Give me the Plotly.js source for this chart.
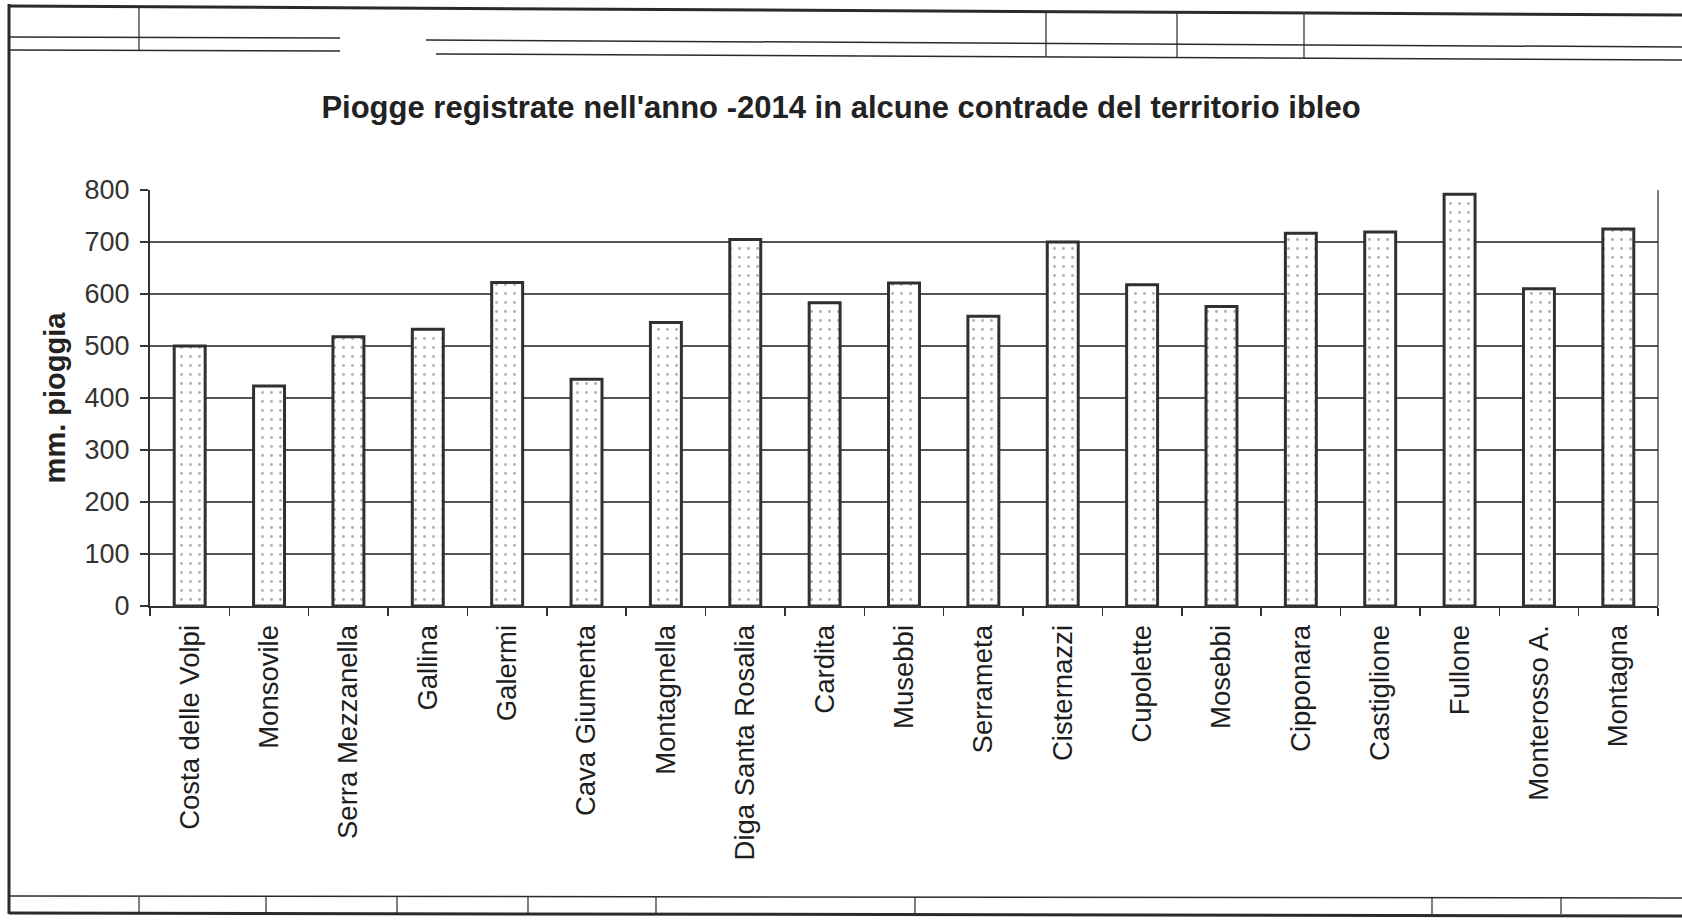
<!DOCTYPE html>
<html>
<head>
<meta charset="utf-8">
<script src="https://cdn.plot.ly/plotly-3.0.1.min.js"></script>
<style>html,body{margin:0;padding:0;background:#fff;}</style>
</head>
<body>
<div id="chart" style="width:1682px;height:923px;"></div>
<script>
const contrade = ["Costa delle Volpi","Monsovile","Serra Mezzanella","Gallina","Galermi","Cava Giumenta","Montagnella","Diga Santa Rosalia","Cardita","Musebbi","Serrameta","Cisternazzi","Cupolette","Mosebbi","Cipponara","Castiglione","Fullone","Monterosso A.","Montagna"];
const pioggia = [500,423,518,532,622,436,545,705,583,621,557,700,618,576,717,719,792,610,725];
const yTicks = [0,100,200,300,400,500,600,700,800];
const titolo = "Piogge registrate nell'anno -2014 in alcune contrade del territorio ibleo";
const yTitolo = "mm. pioggia";

// page geometry (pixels)
const W = 1682, H = 923, PL = 150, PR = 1658, PT = 190, PB = 606;
const px = x => (x - PL) / (PR - PL);
const py = y => (PB - y) / (PB - PT);
function seg(x0, y0, x1, y1, w) {
  return {type:'line', xref:'paper', yref:'paper', x0:px(x0), y0:py(y0), x1:px(x1), y1:py(y1),
          line:{color:'#2a2a2a', width:w||1.5}, layer:'above'};
}
const shapes = [
  seg(9, 4, 9, 914, 3),
  seg(9, 6, W, 15, 3),
  seg(9, 37, 340, 38, 1.5), seg(426, 40, W, 47, 1.5),
  seg(9, 50, 340, 51, 1.5), seg(436, 54, W, 60, 1.5),
  seg(139, 6, 139, 51, 1.2), seg(1046, 12, 1046, 57, 1.2),
  seg(1177, 13, 1177, 58, 1.2), seg(1304, 13, 1304, 59, 1.2),
  seg(9, 896, W, 898, 1.5), seg(9, 913, W, 916, 3)
];
[139,266,397,528,656,915,1432,1561].forEach(x => shapes.push(seg(x, 897, x, 914, 1.2)));
// plot right border
shapes.push(seg(PR, PT, PR, PB, 1.2));

const trace = {
  type:'bar', x: contrade, y: pioggia,
  marker:{color:'#ffffff', line:{color:'#303030', width:3},
          pattern:{shape:'.', fgcolor:'#b0b0b0', bgcolor:'#ffffff', size:9, solidity:0.08}},
  hoverinfo:'x+y'
};

const layout = {
  width:W, height:H, autosize:false,
  paper_bgcolor:'#ffffff', plot_bgcolor:'#ffffff',
  margin:{l:PL, r:W-PR, t:PT, b:H-PB, pad:0},
  font:{family:'Liberation Sans, Arial, sans-serif', color:'#222'},
  title:{text:titolo, x:0.5, xref:'container', xanchor:'center', y:1-107/H, yref:'container', yanchor:'middle',
         font:{size:31, family:'Liberation Sans, Arial, sans-serif', weight:'bold', color:'#222'}},
  bargap:0.61,
  showlegend:false,
  xaxis:{type:'category', showgrid:false, showline:true, linecolor:'#333', linewidth:2,
         ticks:'outside', tickson:'boundaries', ticklen:8, tickcolor:'#333', tickwidth:1.5,
         tickangle:-90, tickfont:{size:27.5, color:'#1e1e1e'}, ticklabelstandoff:6, automargin:false, fixedrange:true},
  yaxis:{range:[0,800], tickvals:yTicks, ticktext:yTicks.map(String), showgrid:true, gridcolor:'#555', gridwidth:1.5,
         showline:true, linecolor:'#333', linewidth:2, ticks:'outside', ticklen:8, tickcolor:'#333', tickwidth:1.5,
         tickfont:{size:27, color:'#333'}, ticklabelstandoff:5, zeroline:false, automargin:false, fixedrange:true,
         title:{text:yTitolo, standoff:10, font:{size:29, weight:'bold', color:'#222'}}},
  shapes: shapes
};
Plotly.newPlot('chart', [trace], layout, {displayModeBar:false, staticPlot:true});
</script>
</body>
</html>
